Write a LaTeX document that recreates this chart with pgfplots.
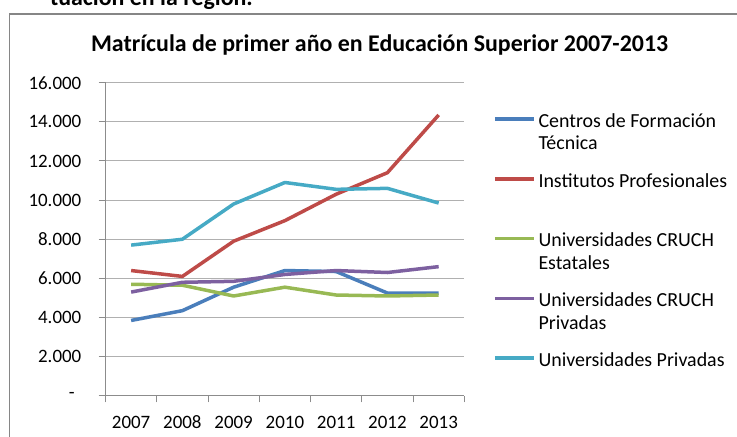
\documentclass[border=0pt]{standalone}
\usepackage{fontspec}
\setmainfont{Carlito}
\usepackage{pgfplots}
\pgfplotsset{compat=1.18}

\definecolor{cft}{HTML}{4A7EBB}
\definecolor{ip}{HTML}{BE4B48}
\definecolor{ues}{HTML}{98B954}
\definecolor{upr}{HTML}{7D60A0}
\definecolor{upriv}{HTML}{46AAC5}
\definecolor{axisgray}{HTML}{8C8C8C}
\definecolor{gridgray}{HTML}{B0B0B0}
\definecolor{bordergray}{HTML}{868686}

\begin{document}
\begin{tikzpicture}[x=1bp,y=1bp]
\clip (0,0) rectangle (737,437);
% heading of the page above the chart, cut off by the screenshot
\node[anchor=base east, inner sep=0pt, font=\fontsize{24}{28}\selectfont\bfseries] at (253,431) {tuación en la región.};
% chart area border
\draw[bordergray, line width=1.5bp] (9.3,-20) -- (9.3,423) -- (760,423);
\node[anchor=base, inner sep=0pt, font=\fontsize{24}{28}\selectfont\bfseries] at (379.6,385.3)
  {Matrícula de primer año en Educación Superior 2007-2013};
\begin{axis}[
  at={(105.5bp,41.2bp)}, anchor=south west,
  scale only axis, width=358.8bp, height=313.1bp,
  xmin=0.5, xmax=7.5, ymin=0, ymax=16000,
  axis x line*=bottom, axis y line*=left,
  axis line style={draw=axisgray, line width=1bp, -},
  xtick={1,...,7}, xticklabels={2007,2008,2009,2010,2011,2012,2013},
  major x tick style={draw=none},
  minor xtick={0.5,1.5,...,7.5},
  ytick={0,2000,...,16000},
  yticklabels={{\makebox[12.5bp][l]{-}},2.000,4.000,6.000,8.000,10.000,12.000,14.000,16.000},
  scaled y ticks=false,
  tick align=outside, major tick length=7bp, minor tick length=6.5bp,
  tick style={draw=axisgray, line width=1bp},
  ymajorgrids, grid style={draw=gridgray, line width=1bp},
  ticklabel style={font=\fontsize{19}{22}\selectfont},
  yticklabel style={anchor=east, inner sep=0pt, xshift=-17bp},
  xticklabel style={anchor=north, inner sep=0pt, yshift=-13bp},
  every axis plot/.append style={line width=3.5bp, line join=round, no markers},
  legend style={draw=none, fill=none, inner sep=0pt, outer sep=0pt,
    at={(1.0800,0.9140)}, anchor=north west,
    font=\fontsize{20}{22.5}\selectfont,
    column sep=1bp, row sep=38.6bp},
  legend cell align=left,
  legend style={cells={anchor=base west, inner sep=0pt}},
  legend image code/.code={\draw[#1] (0bp,8.3bp) -- (39bp,8.3bp);},
]
\addplot[cft] coordinates {(1,3850)(2,4350)(3,5550)(4,6400)(5,6350)(6,5250)(7,5250)};
\addlegendentry{\begin{tabular}[t]{@{}l@{}}Centros de Formación\\Técnica\end{tabular}}
\addplot[ip] coordinates {(1,6400)(2,6100)(3,7900)(4,8950)(5,10300)(6,11400)(7,14350)};
\addlegendentry{\begin{tabular}[t]{@{}l@{}}Institutos Profesionales\\ \mbox{}\end{tabular}}
\addplot[ues] coordinates {(1,5700)(2,5650)(3,5100)(4,5550)(5,5150)(6,5100)(7,5150)};
\addlegendentry{\begin{tabular}[t]{@{}l@{}}Universidades CRUCH\\Estatales\end{tabular}}
\addplot[upr] coordinates {(1,5300)(2,5800)(3,5850)(4,6200)(5,6400)(6,6300)(7,6600)};
\addlegendentry{\begin{tabular}[t]{@{}l@{}}Universidades CRUCH\\Privadas\end{tabular}}
\addplot[upriv] coordinates {(1,7700)(2,8000)(3,9800)(4,10900)(5,10550)(6,10600)(7,9850)};
\addlegendentry{\begin{tabular}[t]{@{}l@{}}Universidades Privadas\\ \mbox{}\end{tabular}}
\end{axis}
\end{tikzpicture}
\end{document}
